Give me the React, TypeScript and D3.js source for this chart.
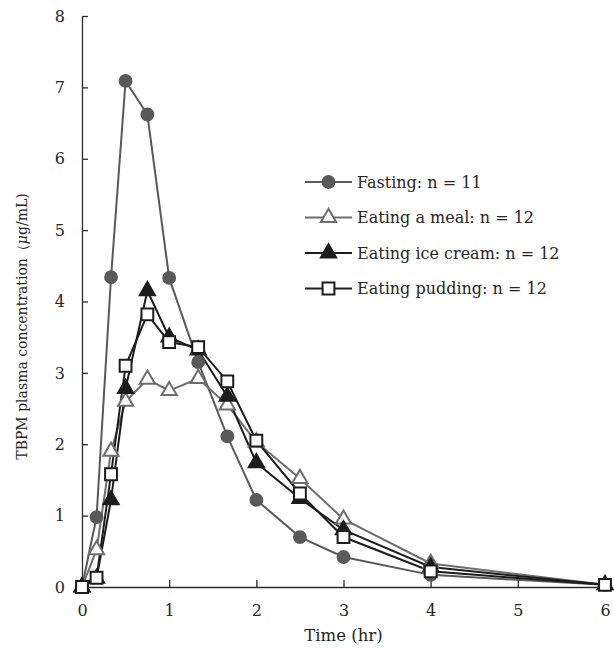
import React, { useEffect, useRef } from 'react';
import * as d3 from 'd3';

// sampling times (hr)
const times = [0, 0.167, 0.333, 0.5, 0.75, 1, 1.333, 1.667, 2, 2.5, 3, 4, 6];

const fasting = [0, 0.98, 4.34, 7.09, 6.62, 4.33, 3.15, 2.11, 1.22, 0.7, 0.42, 0.17, 0.03];
const meal = [0, 0.52, 1.9, 2.6, 2.91, 2.75, 2.92, 2.55, 2.03, 1.52, 0.95, 0.33, 0.03];
const iceCream = [0, 0.12, 1.22, 2.78, 4.15, 3.5, 3.32, 2.67, 1.74, 1.24, 0.8, 0.28, 0.03];
const pudding = [0, 0.13, 1.58, 3.1, 3.82, 3.43, 3.36, 2.88, 2.05, 1.31, 0.7, 0.22, 0.03];

const legendLabels = [
  'Fasting: n = 11',
  'Eating a meal: n = 12',
  'Eating ice cream: n = 12',
  'Eating pudding: n = 12',
];

const xTicks = [0, 1, 2, 3, 4, 5, 6];
const yTicks = [0, 1, 2, 3, 4, 5, 6, 7, 8];

const App = () => {
  const svgRef = useRef<SVGSVGElement>(null);

  useEffect(() => {
    const width = 614;
    const height = 648;
    const margin = { top: 16, right: 9, bottom: 61, left: 82 };
    const font = '"DejaVu Serif", "Liberation Serif", serif';
    const textColor = '#262626';

    const svg = d3.select(svgRef.current);
    svg.selectAll('*').remove();
    svg.attr('viewBox', `0 0 ${width} ${height}`);

    const x = d3.scaleLinear().domain([0, 6]).range([margin.left, width - margin.right]);
    const y = d3.scaleLinear().domain([0, 8]).range([height - margin.bottom, margin.top]);

    const axisColor = '#2b2b2b';

    // axes: ticks point inward
    const gx = svg.append('g')
      .attr('transform', `translate(0,${y(0)})`)
      .call(d3.axisBottom(x).tickValues(xTicks).tickSizeInner(-7).tickSizeOuter(0).tickPadding(18).tickFormat(d3.format('d')));
    const gy = svg.append('g')
      .attr('transform', `translate(${x(0)},0)`)
      .call(d3.axisLeft(y).tickValues(yTicks).tickSizeInner(-6).tickSizeOuter(0).tickPadding(17).tickFormat(d3.format('d')));

    [gx, gy].forEach(g => {
      g.select('.domain').attr('stroke', axisColor).attr('stroke-width', 1.3);
      g.selectAll('.tick line').attr('stroke', axisColor).attr('stroke-width', 1.3);
      g.selectAll('.tick text')
        .attr('fill', textColor)
        .style('font-family', font)
        .style('font-size', '16px');
    });

    const series = [
      { values: fasting, color: '#595959', marker: 'circle', fill: '#595959' },
      { values: meal, color: '#6e6e6e', marker: 'triangle', fill: '#fff' },
      { values: iceCream, color: '#1c1c1c', marker: 'triangle', fill: '#1c1c1c' },
      { values: pudding, color: '#1c1c1c', marker: 'square', fill: '#fff' },
    ];

    const line = d3.line<number>()
      .x((_, i) => x(times[i]))
      .y(d => y(d));

    const symbolPath = (marker: string) => {
      if (marker === 'circle') return d3.symbol(d3.symbolCircle, 150)();
      if (marker === 'triangle') return d3.symbol(d3.symbolTriangle, 100)();
      return d3.symbol(d3.symbolSquare, 140)();
    };

    series.forEach(s => {
      svg.append('path')
        .datum(s.values)
        .attr('d', line)
        .attr('fill', 'none')
        .attr('stroke', s.color)
        .attr('stroke-width', 2);
    });

    series.forEach(s => {
      svg.append('g')
        .selectAll('path')
        .data(s.values)
        .join('path')
        .attr('transform', (d, i) => `translate(${x(times[i])},${y(d)})`)
        .attr('d', symbolPath(s.marker))
        .attr('fill', s.fill)
        .attr('stroke', s.color)
        .attr('stroke-width', s.marker === 'circle' ? 0 : 2);
    });

    // legend
    const legend = svg.append('g').attr('transform', 'translate(305,182)');
    series.forEach((s, i) => {
      const row = legend.append('g').attr('transform', `translate(0,${i * 35.5})`);
      row.append('line')
        .attr('x1', 0).attr('x2', 47)
        .attr('stroke', s.color)
        .attr('stroke-width', 2);
      row.append('path')
        .attr('transform', 'translate(23.5,0)')
        .attr('d', symbolPath(s.marker))
        .attr('fill', s.fill)
        .attr('stroke', s.color)
        .attr('stroke-width', s.marker === 'circle' ? 0 : 2);
      row.append('text')
        .attr('x', 52)
        .attr('dy', '0.35em')
        .attr('fill', textColor)
        .style('font-family', font)
        .style('font-size', '16px')
        .text(legendLabels[i]);
    });

    // axis titles
    svg.append('text')
      .attr('x', (x(0) + x(6)) / 2)
      .attr('y', 641)
      .attr('text-anchor', 'middle')
      .attr('fill', textColor)
      .style('font-family', font)
      .style('font-size', '16.5px')
      .text('Time (hr)');

    const yTitle = svg.append('text')
      .attr('transform', `translate(27,${(y(0) + y(8)) / 2 + 25}) rotate(-90)`)
      .attr('text-anchor', 'middle')
      .attr('fill', textColor)
      .style('font-family', font)
      .style('font-size', '14px');
    yTitle.append('tspan').text('TBPM plasma concentration（');
    yTitle.append('tspan').style('font-style', 'italic').text('μ');
    yTitle.append('tspan').text('g/mL)');
  }, []);

  return (
    <svg ref={svgRef} width={614} height={648}
      style={{ position: 'absolute', left: 0, top: 0 }} />
  );
};

export default App;
